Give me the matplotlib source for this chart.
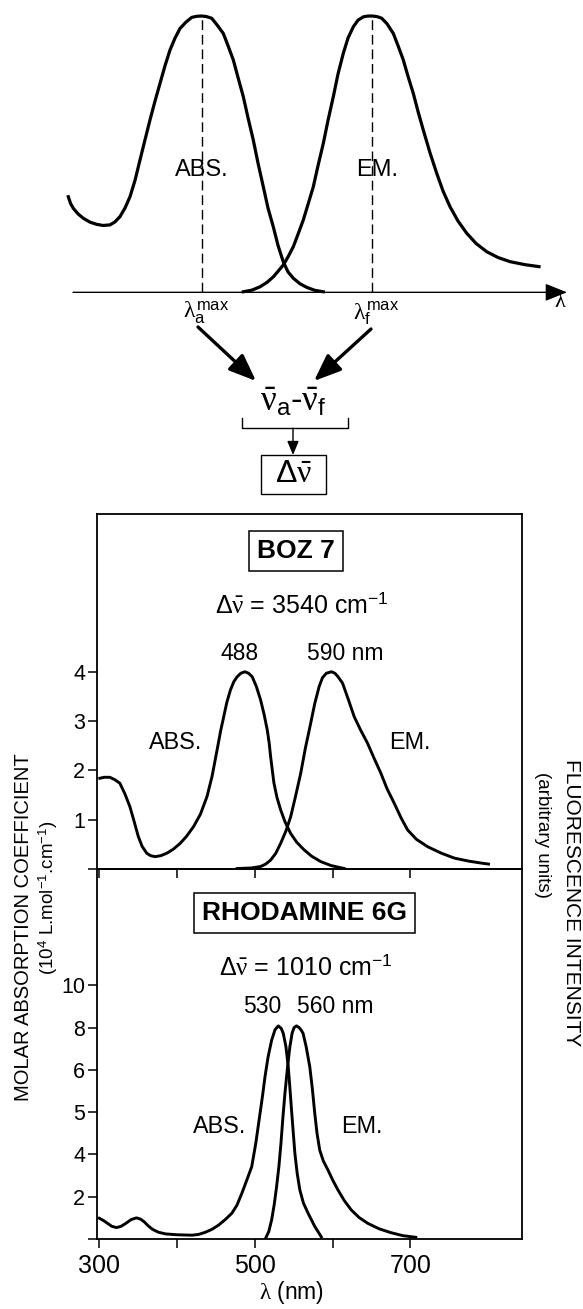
import numpy as np
import matplotlib
matplotlib.use('Agg')
import matplotlib.pyplot as plt
from matplotlib.patches import Rectangle

plt.rcParams['font.family'] = ['Liberation Sans', 'DejaVu Sans']
plt.rcParams['mathtext.fontset'] = 'custom'
plt.rcParams['mathtext.rm'] = 'Liberation Sans'
plt.rcParams['mathtext.it'] = 'Liberation Serif'
plt.rcParams['mathtext.bf'] = 'Liberation Sans:bold'

# --- schematic (arbitrary lambda units, normalised intensity) ---
sch_abs_x = [68.3, 70.5, 73.3, 78.0, 83.3, 90.0, 96.7, 103.0, 110.0, 115.0, 120.0, 125.0,
             130.0, 135.0, 140.0, 145.0, 150.0, 155.0, 160.0, 165.0, 170.0, 175.0, 180.0,
             186.0, 191.7, 196.5, 201.7, 206.5, 211.7, 217.0, 223.3, 228.0, 233.3, 238.0,
             243.3, 248.0, 253.3, 258.0, 263.3, 268.0, 273.3, 278.0, 283.3, 288.0, 293.3,
             300.0, 306.7, 315.0, 323.3]
sch_abs_y = [0.346, 0.322, 0.304, 0.284, 0.268, 0.254, 0.246, 0.242, 0.244, 0.255, 0.274,
             0.305, 0.346, 0.405, 0.479, 0.552, 0.624, 0.692, 0.756, 0.820, 0.877, 0.920,
             0.955, 0.978, 0.995, 0.999, 1.0, 0.998, 0.992, 0.968, 0.937, 0.893, 0.841,
             0.778, 0.708, 0.632, 0.551, 0.468, 0.382, 0.305, 0.237, 0.170, 0.110, 0.074,
             0.051, 0.031, 0.018, 0.007, 0.002]
sch_em_x = [243.3, 252.0, 260.0, 267.0, 273.3, 278.0, 283.3, 288.0, 293.3, 298.0, 303.3,
            308.0, 313.3, 318.0, 323.3, 328.0, 333.3, 338.0, 343.3, 348.0, 353.3, 358.0,
            363.3, 368.0, 372.3, 377.0, 381.7, 387.0, 393.3, 398.0, 403.3, 408.0, 413.3,
            418.0, 423.3, 430.0, 436.7, 443.0, 450.0, 458.0, 466.7, 476.0, 486.7, 498.0,
            510.0, 525.0, 539.0]
sch_em_y = [0.002, 0.008, 0.020, 0.036, 0.056, 0.076, 0.099, 0.128, 0.165, 0.210, 0.262,
            0.318, 0.382, 0.458, 0.539, 0.622, 0.708, 0.790, 0.865, 0.920, 0.961, 0.985,
            0.997, 1.0, 1.0, 0.998, 0.992, 0.972, 0.937, 0.893, 0.841, 0.782, 0.720,
            0.655, 0.587, 0.505, 0.431, 0.367, 0.310, 0.258, 0.214, 0.177, 0.147, 0.126,
            0.111, 0.100, 0.093]
sch_peaks = [201.7, 372.3]

# --- BOZ 7 (nm, 10^4 L/mol/cm) ---
boz_abs_nm = [300.6, 306.0, 313.5, 320.0, 326.4, 333.0, 339.4, 345.0, 350.1, 355.0, 361.0,
              366.0, 371.7, 379.0, 386.8, 395.0, 404.0, 412.0, 421.2, 430.0, 438.5, 445.0,
              451.4, 456.0, 460.0, 464.0, 468.6, 473.0, 477.3, 482.0, 487.1, 492.0, 496.6,
              502.0, 507.4, 512.0, 516.0, 518.5, 520.3, 522.5, 524.6, 528.5, 533.2, 539.0,
              546.1, 554.0, 563.3, 573.0, 584.8, 598.0, 614.9]
boz_abs_val = [1.84, 1.86, 1.86, 1.81, 1.74, 1.52, 1.26, 0.95, 0.66, 0.46, 0.32,
               0.27, 0.25, 0.27, 0.32, 0.40, 0.52, 0.66, 0.86, 1.11, 1.47, 1.88,
               2.41, 2.80, 3.09, 3.38, 3.63, 3.80, 3.90, 3.97, 4.00, 3.97, 3.90,
               3.70, 3.43, 3.13, 2.82, 2.55, 2.28, 2.00, 1.74, 1.45, 1.20, 0.95,
               0.72, 0.54, 0.39, 0.26, 0.15, 0.07, 0.01]
boz_em_nm = [477.3, 495.0, 507.4, 514.0, 520.3, 527.0, 533.2, 540.0, 546.1, 552.0, 559.0,
             565.0, 571.9, 577.0, 582.7, 587.0, 592.0, 598.6, 603.0, 607.0, 612.8, 620.0,
             627.8, 636.0, 645.0, 653.0, 662.2, 670.0, 679.4, 688.0, 696.6, 708.0, 722.5,
             740.0, 756.8, 775.0, 791.3, 800.6]
boz_em_val = [0.01, 0.02, 0.05, 0.10, 0.18, 0.32, 0.52, 0.77, 1.06, 1.45, 1.94,
              2.45, 2.96, 3.35, 3.70, 3.88, 3.97, 4.00, 3.97, 3.90, 3.77, 3.45,
              3.09, 2.82, 2.55, 2.26, 1.94, 1.63, 1.33, 1.04, 0.79, 0.60, 0.45,
              0.32, 0.22, 0.16, 0.12, 0.10]
boz_yticks = [0, 1, 2, 3, 4]
boz_ylabels = ['', '1', '2', '3', '4']

# --- Rhodamine 6G (nm, position on the printed tick scale) ---
rh_abs_nm = [300.0, 305.0, 310.6, 316.0, 322.1, 328.0, 334.1, 341.0, 347.7, 353.0, 357.5,
             363.0, 368.2, 376.0, 385.3, 400.0, 419.3, 428.0, 436.4, 445.0, 453.5, 462.0,
             470.5, 477.0, 483.3, 489.6, 496.0, 501.2, 506.7, 510.0, 513.1, 517.0, 521.6,
             526.0, 530.2, 534.0, 536.6, 540.0, 543.0, 545.0, 547.2, 549.5, 551.5, 554.5,
             557.9, 562.5, 568.5, 577.0, 585.5]
rh_abs_val = [0.49, 0.44, 0.37, 0.30, 0.27, 0.30, 0.37, 0.46, 0.50, 0.47, 0.41,
              0.31, 0.23, 0.16, 0.12, 0.10, 0.09, 0.11, 0.16, 0.23, 0.33, 0.46,
              0.61, 0.80, 1.08, 1.39, 1.71, 2.26, 2.97, 3.40, 3.84, 4.30, 4.70,
              4.95, 5.04, 4.98, 4.86, 4.55, 4.07, 3.60, 3.05, 2.50, 2.03, 1.55,
              1.16, 0.85, 0.61, 0.30, 0.05]
rh_em_nm = [514.0, 518.0, 521.6, 525.0, 528.0, 531.0, 533.6, 536.0, 538.7, 542.0, 545.1,
            548.0, 550.5, 553.6, 557.0, 560.0, 562.1, 566.0, 570.7, 574.0, 577.1, 580.0,
            583.5, 588.0, 594.1, 600.0, 606.9, 615.0, 623.9, 634.0, 645.3, 660.0, 675.1,
            690.0, 707.0]
rh_em_val = [0.02, 0.18, 0.45, 0.82, 1.24, 1.72, 2.26, 2.85, 3.44, 4.05, 4.55,
             4.87, 5.00, 5.04, 5.00, 4.93, 4.86, 4.55, 4.07, 3.55, 2.97, 2.50,
             2.10, 1.85, 1.63, 1.40, 1.16, 0.91, 0.69, 0.51, 0.37, 0.24, 0.15,
             0.08, 0.04]
rh_yticks = [0, 1, 2, 3, 4, 5, 6]
rh_ylabels = ['', '2', '4', '5', '6', '8', '10']

xticks = [300, 400, 500, 600, 700]
xlabels = ['300', '', '500', '', '700']

W, H = 583, 1309
fig = plt.figure(figsize=(W / 100, H / 100), dpi=100)


def frac(x0, y0, x1, y1):
    """pixel box (top-left origin) -> figure fraction rect"""
    return [x0 / W, 1 - y1 / H, (x1 - x0) / W, (y1 - y0) / H]


LW = 2.1

# overlay in pixel coordinates for the arrows / boxes
ov = fig.add_axes([0, 0, 1, 1])
ov.set_xlim(0, W)
ov.set_ylim(H, 0)
ov.axis('off')

# ---------- schematic ----------
sch = fig.add_axes(frac(60, 0, 580, 310))
sch.set_xlim(60, 580)
sch.set_ylim(-0.064, 1.058)
sch.axis('off')
sch.plot(sch_abs_x, sch_abs_y, color='k', lw=LW + 0.2, solid_joinstyle='round')
sch.plot(sch_em_x, sch_em_y, color='k', lw=LW + 0.2, solid_joinstyle='round')
for xp in sch_peaks:
    sch.plot([xp, xp], [0, 1.0], color='k', lw=1.0, dashes=(7, 3.5))
sch.annotate('', xy=(567, 0), xytext=(73, 0),
             arrowprops=dict(arrowstyle='-|>,head_length=0.75,head_width=0.3',
                             lw=1.0, color='k', mutation_scale=18,
                             shrinkA=0, shrinkB=0))
sch.text(201.7, 0.443, 'ABS.', ha='center', va='center', fontsize=17)
sch.text(377, 0.443, 'EM.', ha='center', va='center', fontsize=17)
sch.text(sch_peaks[0] + 4, -0.075, r'$\lambda_{\mathrm{a}}^{\mathrm{max}}$',
         ha='center', va='center', fontsize=17)
sch.text(sch_peaks[1] + 4, -0.075, r'$\lambda_{\mathrm{f}}^{\mathrm{max}}$',
         ha='center', va='center', fontsize=17)
sch.text(560, -0.035, r'$\lambda$', ha='center', va='center', fontsize=16)

# arrows to the wavenumber difference
head = '-|>,head_length=0.75,head_width=0.3'
ov.annotate('', xy=(256, 381), xytext=(198, 327),
            arrowprops=dict(arrowstyle=head, lw=2.4, color='k', mutation_scale=22,
                            shrinkA=0, shrinkB=0))
ov.annotate('', xy=(314, 381), xytext=(371, 329),
            arrowprops=dict(arrowstyle=head, lw=2.4, color='k', mutation_scale=22,
                            shrinkA=0, shrinkB=0))
ov.text(293, 401, r'$\bar{\nu}_{\mathrm{a}}$-$\bar{\nu}_{\mathrm{f}}$',
        ha='center', va='center', fontsize=25)
ov.plot([241.7, 241.7, 348.3, 348.3], [417.7, 428.3, 428.3, 417.7], color='k', lw=1.0)
ov.annotate('', xy=(293, 455), xytext=(293, 428.3),
            arrowprops=dict(arrowstyle='-|>,head_length=0.6,head_width=0.25',
                            lw=1.0, color='k', mutation_scale=14,
                            shrinkA=0, shrinkB=0))
ov.add_patch(Rectangle((261, 455), 65, 39, fill=False, lw=1.0, ec='k'))
ov.text(293.5, 474.5, r'$\Delta\bar{\nu}$', ha='center', va='center', fontsize=23)

# ---------- spectra panels ----------
xlim = (297, 843)
ax1 = fig.add_axes(frac(97, 514, 521.5, 869))
ax2 = fig.add_axes(frac(97, 869, 521.5, 1239))

for ax in (ax1, ax2):
    ax.set_xlim(*xlim)
    ax.set_xticks(xticks)
    for s in ax.spines.values():
        s.set_linewidth(1.3)
    ax.tick_params(direction='out', length=6.5, width=1.1, colors='k')
    ax.patch.set_alpha(0)

ax1.plot(boz_abs_nm, boz_abs_val, color='k', lw=LW, solid_joinstyle='round')
ax1.plot(boz_em_nm, boz_em_val, color='k', lw=LW, solid_joinstyle='round')
ax1.set_ylim(0, 7.2)
ax1.set_yticks(boz_yticks)
ax1.set_yticklabels(boz_ylabels)
ax1.set_xticklabels([])
ax1.tick_params(axis='y', labelsize=15.5, pad=2)

box = dict(boxstyle='square,pad=0.3', fc='white', ec='k', lw=1.1)
ax1.text(553, 6.45, 'BOZ 7', ha='center', va='center', fontsize=19,
         fontweight='bold', bbox=box)
ax1.text(561, 5.35, r'$\Delta\bar{\nu}$ = 3540 cm$^{-1}$', ha='center', va='center',
         fontsize=18)
ax1.text(481, 4.38, '488', ha='center', va='center', fontsize=16.5)
ax1.text(616, 4.38, '590 nm', ha='center', va='center', fontsize=16.5)
ax1.text(398, 2.56, 'ABS.', ha='center', va='center', fontsize=16.8)
ax1.text(699, 2.56, 'EM.', ha='center', va='center', fontsize=16.8)

ax2.plot(rh_abs_nm, rh_abs_val, color='k', lw=LW, solid_joinstyle='round')
ax2.plot(rh_em_nm, rh_em_val, color='k', lw=LW, solid_joinstyle='round')
ax2.set_ylim(0, 8.75)
ax2.set_yticks(rh_yticks)
ax2.set_yticklabels(rh_ylabels)
ax2.set_xticklabels(xlabels)
ax2.tick_params(axis='x', labelsize=18, pad=4)
ax2.tick_params(axis='y', labelsize=15.5, pad=2)
ax2.set_xlabel(r'$\lambda$ (nm)', fontsize=16.5, labelpad=1)
ax2.xaxis.label.set_x(0.459)

ax2.text(564, 7.71, 'RHODAMINE 6G', ha='center', va='center', fontsize=19,
         fontweight='bold', bbox=box)
ax2.text(566, 6.41, r'$\Delta\bar{\nu}$ = 1010 cm$^{-1}$', ha='center', va='center',
         fontsize=18)
ax2.text(510, 5.49, '530', ha='center', va='center', fontsize=16.5)
ax2.text(603, 5.49, '560 nm', ha='center', va='center', fontsize=16.5)
ax2.text(455, 2.65, 'ABS.', ha='center', va='center', fontsize=16.8)
ax2.text(637, 2.65, 'EM.', ha='center', va='center', fontsize=16.8)

# side labels
fig.text(24 / W, 1 - 927 / H, 'MOLAR ABSORPTION COEFFICIENT', rotation=90,
         ha='center', va='center', fontsize=14.5)
fig.text(48 / W, 1 - 898 / H, r'(10$^{4}$ L.mol$^{-1}$.cm$^{-1}$)', rotation=90,
         ha='center', va='center', fontsize=13.5)
fig.text(572 / W, 1 - 903 / H, 'FLUORESCENCE INTENSITY', rotation=-90,
         ha='center', va='center', fontsize=15)
fig.text(543 / W, 1 - 835 / H, '(arbitrary units)', rotation=-90,
         ha='center', va='center', fontsize=13.5)

fig.savefig('out.png', dpi=100)
